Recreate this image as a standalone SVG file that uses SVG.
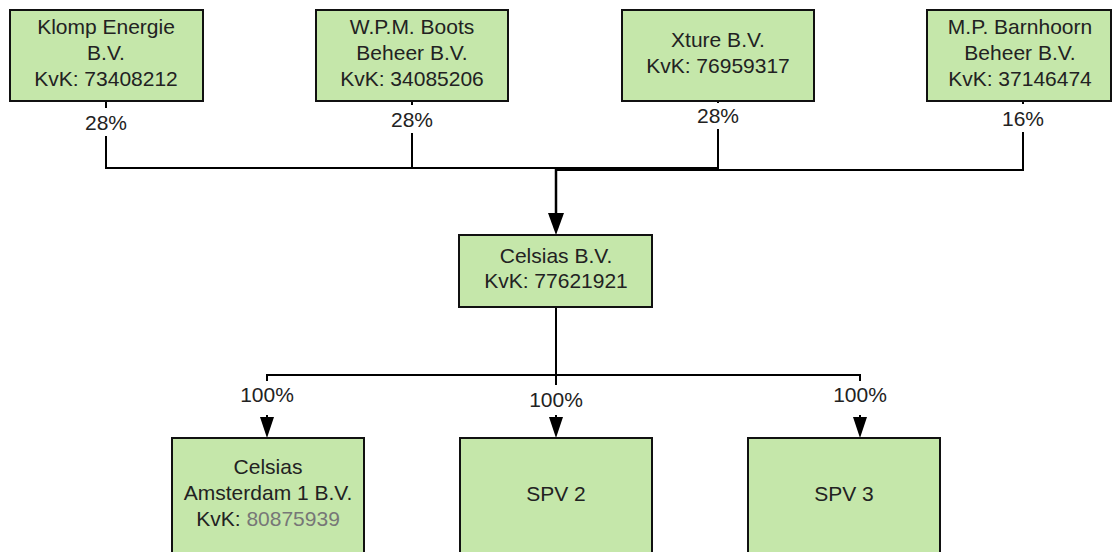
<svg xmlns="http://www.w3.org/2000/svg" width="1112" height="552" viewBox="0 0 1112 552">
<style>
.box{fill:#c5e7aa;stroke:#111;stroke-width:2}
.t{font-family:"Liberation Sans",Arial,sans-serif;font-size:21px;fill:#222;text-anchor:middle}
.ln{fill:none;stroke:#000;stroke-width:2}
.bg{fill:#fff}
.ah{fill:#000}
</style>
<rect width="1112" height="552" fill="#fff"/>
<g id="connectors">
<path class="ln" d="M106,101 V168 H556"/>
<path class="ln" d="M412,101 V168"/>
<path class="ln" d="M718,101 V170 H1023 V101"/>
<path class="ln" style="stroke-width:4" d="M556,169 H718"/>
<path class="ln" style="stroke-width:2.5" d="M556,169 V216"/>
<polygon class="ah" points="548,213 564,213 556,235"/>
<path class="ln" d="M556,307 V375"/>
<path class="ln" d="M267,420 V375 H860 V420"/>
<path class="ln" d="M556,375 V420"/>
<polygon class="ah" points="260,417 274,417 267,438"/>
<polygon class="ah" points="549,417 563,417 556,438"/>
<polygon class="ah" points="853,417 867,417 860,438"/>
<rect class="bg" x="84" y="108" width="44" height="28"/>
<text class="t" x="106" y="130">28%</text>
<rect class="bg" x="390" y="105" width="44" height="28"/>
<text class="t" x="412" y="127">28%</text>
<rect class="bg" x="696" y="103" width="44" height="26"/>
<text class="t" x="718" y="123">28%</text>
<rect class="bg" x="1001" y="104" width="44" height="28"/>
<text class="t" x="1023" y="126">16%</text>
<rect class="bg" x="239" y="381" width="56" height="34"/>
<text class="t" x="267" y="402">100%</text>
<rect class="bg" x="528" y="385" width="56" height="30"/>
<text class="t" x="556" y="407">100%</text>
<rect class="bg" x="832" y="381" width="56" height="34"/>
<text class="t" x="860" y="402">100%</text>
</g>
<g id="klomp">
<rect class="box" x="10" y="10" width="193" height="91"/>
<text class="t" x="106" y="34">Klomp Energie</text>
<text class="t" x="106" y="60">B.V.</text>
<text class="t" x="106" y="86">KvK: 73408212</text>
</g>
<g id="boots">
<rect class="box" x="316" y="10" width="192" height="91"/>
<text class="t" x="412" y="34">W.P.M. Boots</text>
<text class="t" x="412" y="60">Beheer B.V.</text>
<text class="t" x="412" y="86">KvK: 34085206</text>
</g>
<g id="xture">
<rect class="box" x="622" y="10" width="192" height="91"/>
<text class="t" x="718" y="47">Xture B.V.</text>
<text class="t" x="718" y="73">KvK: 76959317</text>
</g>
<g id="barnhoorn">
<rect class="box" x="927" y="10" width="184" height="91"/>
<text class="t" x="1020" y="34">M.P. Barnhoorn</text>
<text class="t" x="1020" y="60">Beheer B.V.</text>
<text class="t" x="1020" y="86">KvK: 37146474</text>
</g>
<g id="celsias">
<rect class="box" x="459" y="235" width="193" height="72"/>
<text class="t" x="556" y="263">Celsias B.V.</text>
<text class="t" x="556" y="288">KvK: 77621921</text>
</g>
<g id="amsterdam">
<rect class="box" x="172" y="438" width="192" height="124"/>
<text class="t" x="268" y="474">Celsias</text>
<text class="t" x="268" y="500">Amsterdam 1 B.V.</text>
<text class="t" x="268" y="526">KvK: <tspan fill="#777">80875939</tspan></text>
</g>
<g id="spv2">
<rect class="box" x="460" y="438" width="192" height="124"/>
<text class="t" x="556" y="501">SPV 2</text>
</g>
<g id="spv3">
<rect class="box" x="748" y="438" width="192" height="124"/>
<text class="t" x="844" y="501">SPV 3</text>
</g>
</svg>
